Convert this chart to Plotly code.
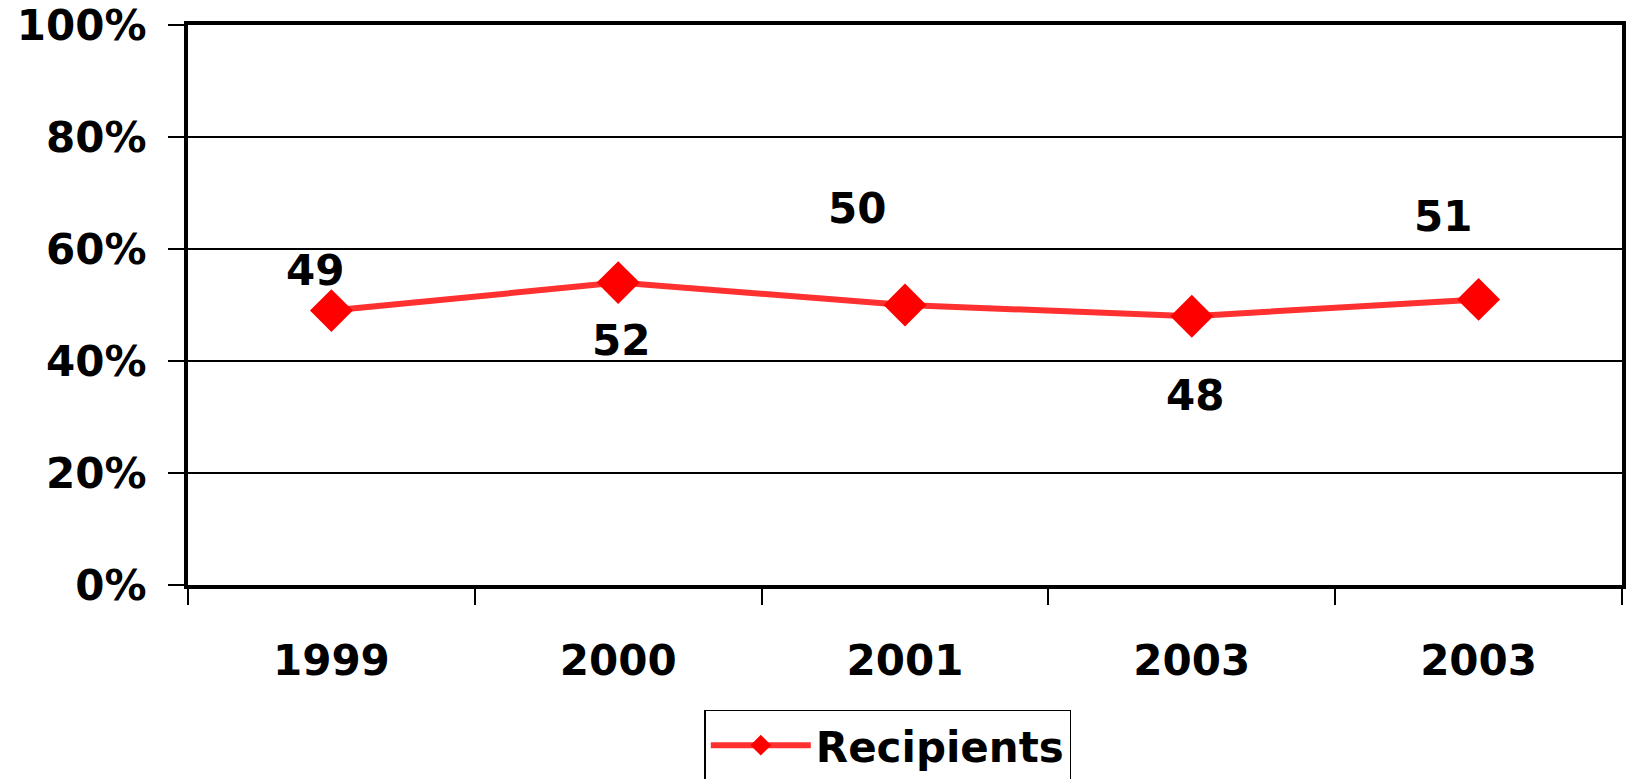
import plotly.graph_objects as go

years = ["1999", "2000", "2001", "2003", "2003"]
values = [49, 54, 50, 48, 51]
labels = ["49", "52", "50", "48", "51"]
series_name = "Recipients"
y_ticks = [0, 20, 40, 60, 80, 100]
y_tick_text = ["0%", "20%", "40%", "60%", "80%", "100%"]

# label offsets (style, pixels)
label_xshift = [-16, 3, -48, 3, -36]
label_yshift = [40, -58, 97, -79, 83]

FONT = "DejaVu Sans"
FS = 42

xs = list(range(len(years)))

fig = go.Figure()
fig.add_trace(go.Scatter(
    x=xs, y=values, name=series_name, mode="lines+markers",
    line=dict(color="#ff3030", width=6),
    marker=dict(symbol="diamond", size=33, color="#ff0000"),
    showlegend=True,
))

for xi, v, lab, dx, dy in zip(xs, values, labels, label_xshift, label_yshift):
    fig.add_annotation(x=xi, y=v, text=lab, showarrow=False,
                       xshift=dx, yshift=dy,
                       font=dict(family=FONT, size=FS, color="black", weight="bold"))

fig.update_layout(
    width=1628, height=779,
    margin=dict(l=188, r=6, t=25, b=194, autoexpand=False),
    paper_bgcolor="white", plot_bgcolor="white",
    font=dict(family=FONT, size=FS, color="black", weight="bold"),
    legend=dict(
        x=0.488, y=-0.223, xanchor="center", yanchor="top",
        bordercolor="black", borderwidth=1.5, bgcolor="white",
        font=dict(family=FONT, size=FS, color="black", weight="bold"),
        itemwidth=100,
    ),
)

fig.update_xaxes(
    range=[-0.5, len(years) - 0.5],
    tickmode="array", tickvals=xs, ticktext=years,
    ticks="", showgrid=False,
    showline=True, linecolor="black", linewidth=4, mirror=True,
    zeroline=False, automargin=False,
    ticklabelstandoff=36,
    minor=dict(tickmode="array", tickvals=[i - 0.5 for i in range(len(years) + 1)],
               ticks="outside", ticklen=16, tickwidth=1.5, tickcolor="black",
               showgrid=False),
    fixedrange=True,
)
fig.update_yaxes(
    range=[0, 100],
    tickmode="array", tickvals=y_ticks, ticktext=y_tick_text,
    ticks="outside", ticklen=16, tickwidth=1.5, tickcolor="black",
    showgrid=True, gridcolor="black", gridwidth=1.5,
    showline=True, linecolor="black", linewidth=4, mirror=True,
    zeroline=False, automargin=False,
    ticklabelstandoff=13,
    fixedrange=True,
)

fig.write_html("out.html", config={"displayModeBar": False},
               post_script="document.body.style.margin='0';document.body.style.overflow='hidden';")
